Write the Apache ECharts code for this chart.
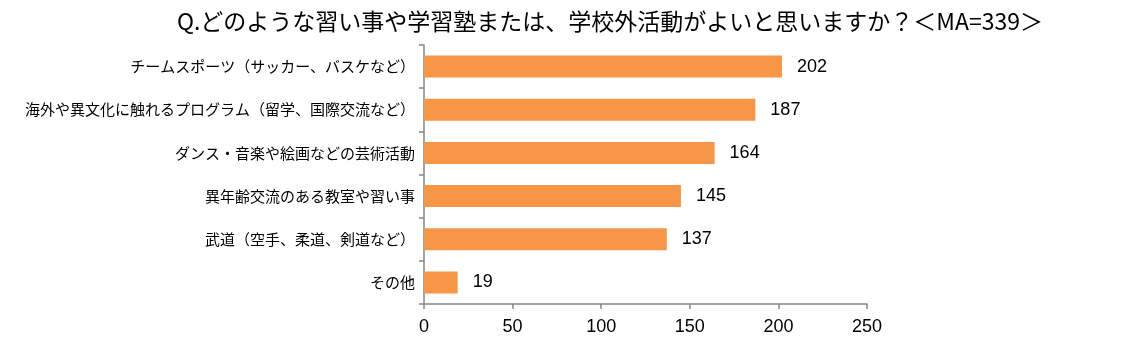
<!DOCTYPE html>
<html><head><meta charset="utf-8">
<script src="https://cdn.jsdelivr.net/npm/echarts@6/dist/echarts.min.js"></script>
<style>html,body{margin:0;padding:0;background:#fff}#c{width:1146px;height:355px}</style>
</head><body><div id="c"></div>
<script>
const titleText = 'Q.どのような習い事や学習塾または、学校外活動がよいと思いますか？＜MA=339＞';
const categories = [
  'チームスポーツ（サッカー、バスケなど）',
  '海外や異文化に触れるプログラム（留学、国際交流など）',
  'ダンス・音楽や絵画などの芸術活動',
  '異年齢交流のある教室や習い事',
  '武道（空手、柔道、剣道など）',
  'その他'
];
const values = [202, 187, 164, 145, 137, 19];
const xTicks = [0, 50, 100, 150, 200, 250];

const chart = echarts.init(document.getElementById('c'));
const axisColor = '#868686';
chart.setOption({
  animation: false,
  title: {
    text: titleText, left: 605, top: 5, textAlign: 'center',
    textStyle: {fontFamily: '"Noto Sans CJK JP", sans-serif', fontSize: 23, fontWeight: 'normal', color: '#000'}
  },
  grid: {left: 424, right: 279, top: 45, bottom: 51, containLabel: false},
  xAxis: {
    type: 'value', min: xTicks[0], max: xTicks[xTicks.length-1], interval: 50,
    axisLine: {show: true, lineStyle: {color: axisColor, width: 1.5}},
    axisTick: {show: true, length: 5, lineStyle: {color: axisColor, width: 1.5}},
    splitLine: {show: false},
    axisLabel: {fontFamily: '"Liberation Sans", Arial, sans-serif', fontSize: 18, color: '#000', margin: 14}
  },
  yAxis: {
    type: 'category', data: categories, inverse: true,
    axisLine: {show: true, lineStyle: {color: axisColor, width: 1.5}},
    axisTick: {show: true, length: 5, lineStyle: {color: axisColor, width: 1.5}},
    axisLabel: {fontFamily: '"Noto Sans CJK JP", sans-serif', fontSize: 15, color: '#000', margin: 9}
  },
  series: [{
    type: 'bar', data: values, barWidth: 22,
    itemStyle: {color: '#F79646'},
    label: {show: true, position: 'right', distance: 15, color: '#000',
      fontFamily: '"Liberation Sans", Arial, sans-serif', fontSize: 18}
  }]
});
</script></body></html>
